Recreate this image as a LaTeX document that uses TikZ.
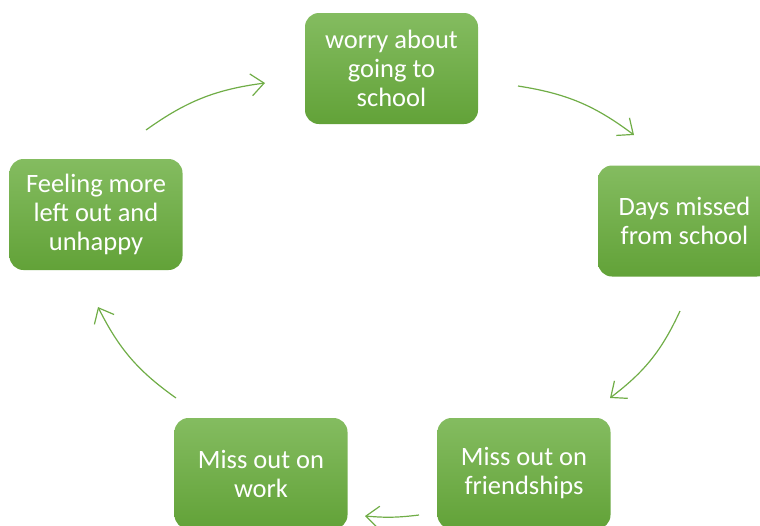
\documentclass[tikz,border=0pt]{standalone}
\usepackage{fontspec}
\setmainfont{Carlito}
\usetikzlibrary{arrows.meta}
\definecolor{boxtop}{RGB}{132,188,96}
\definecolor{boxbottom}{RGB}{98,162,56}
\definecolor{cyclegreen}{RGB}{112,173,71}
\tikzset{
    box/.style={rounded corners=14pt, align=center, text=white,
        font=\fontsize{26.5}{29}\selectfont, minimum width=173pt, minimum height=111pt,
        inner sep=4pt, top color=boxtop, bottom color=boxbottom},
    cycle/.style={-{Straight Barb[length=13pt,width=22pt]}, line width=1.2pt, draw=cyclegreen, bend left=14}
}
\begin{document}
\begin{tikzpicture}[x=1pt, y=-1pt]
    \useasboundingbox (0,0) rectangle (760,525);
    \node[box] (worry) at (391.5,68.5) {worry about\\going to\\school};
    \node[box] (days) at (684.5,221) {Days missed\\from school};
    \node[box] (friends) at (524,473.5) {Miss out on\\friendships};
    \node[box] (work) at (261,473.5) {Miss out on\\work};
    \node[box] (feeling) at (96,214.5) {Feeling more\\left out and\\unhappy};
    % ends of the arrows between the boxes
    \coordinate (a1s) at (518,86);
    \coordinate (a1e) at (634,135);
    \coordinate (a2s) at (680,311);
    \coordinate (a2e) at (610,398);
    \coordinate (a3s) at (419,515);
    \coordinate (a3e) at (365,516);
    \coordinate (a4s) at (176,398);
    \coordinate (a4e) at (98,307);
    \coordinate (a5s) at (146,130);
    \coordinate (a5e) at (265,83);
    \draw[cycle] (a1s) to (a1e);
    \draw[cycle] (a2s) to (a2e);
    \draw[cycle, bend left=6] (a3s) to (a3e);
    \draw[cycle] (a4s) to (a4e);
    \draw[cycle] (a5s) to (a5e);
\end{tikzpicture}
\end{document}
